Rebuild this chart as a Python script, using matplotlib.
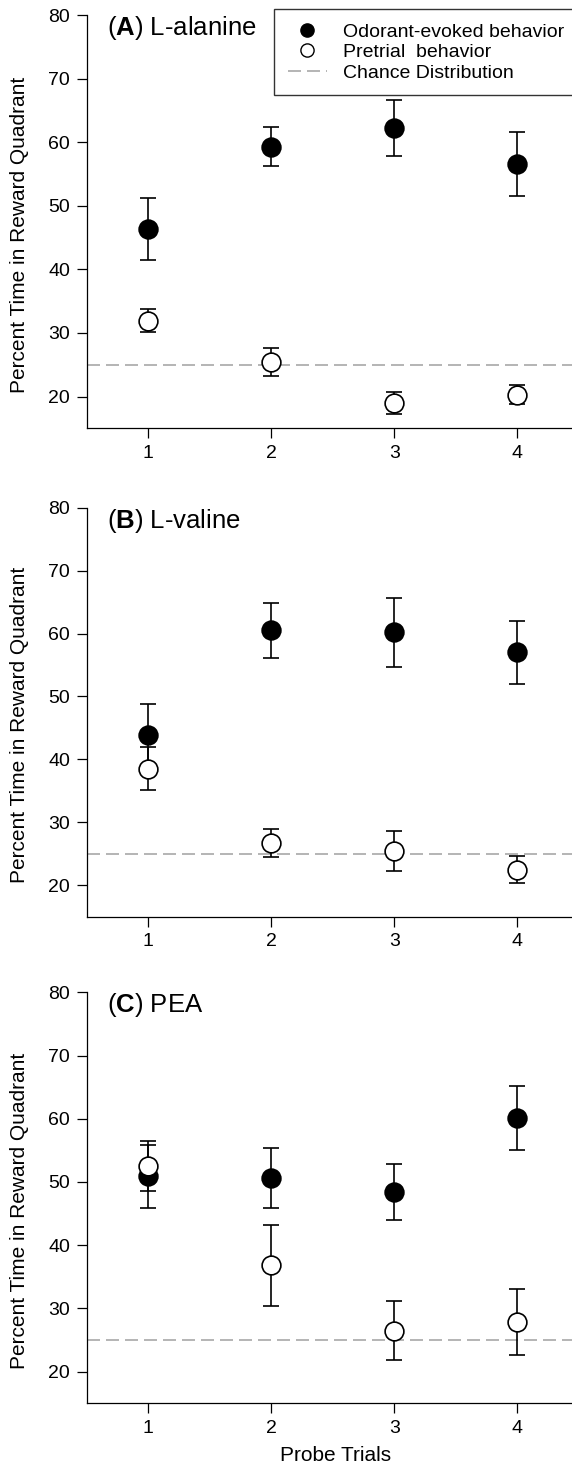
import matplotlib
matplotlib.use("Agg")
import matplotlib.pyplot as plt
from matplotlib.lines import Line2D

plt.rcParams['font.family'] = ['Liberation Sans', 'DejaVu Sans']
plt.rcParams['mathtext.fontset'] = 'custom'
plt.rcParams['mathtext.rm'] = 'Liberation Sans'
plt.rcParams['mathtext.bf'] = 'Liberation Sans:bold'

trials = [1, 2, 3, 4]
chance = 25

panel_titles = [r'($\mathbf{A}$) L-alanine', r'($\mathbf{B}$) L-valine', r'($\mathbf{C}$) PEA']

# mean percent time in reward quadrant, with error bar half-widths
odor_alanine = [46.3, 59.3, 62.2, 56.6]
odor_alanine_err = [4.9, 3.1, 4.45, 5.0]
pre_alanine = [31.9, 25.5, 19.0, 20.3]
pre_alanine_err = [1.8, 2.2, 1.75, 1.5]

odor_valine = [43.8, 60.5, 60.2, 57.0]
odor_valine_err = [5.0, 4.4, 5.5, 5.0]
pre_valine = [38.5, 26.7, 25.4, 22.5]
pre_valine_err = [3.4, 2.2, 3.2, 2.1]

odor_pea = [50.9, 50.6, 48.4, 60.1]
odor_pea_err = [5.0, 4.7, 4.4, 5.1]
pre_pea = [52.6, 36.8, 26.5, 27.8]
pre_pea_err = [3.95, 6.4, 4.65, 5.2]

odor = [odor_alanine, odor_valine, odor_pea]
odor_err = [odor_alanine_err, odor_valine_err, odor_pea_err]
pre = [pre_alanine, pre_valine, pre_pea]
pre_err = [pre_alanine_err, pre_valine_err, pre_pea_err]

W, H = 572, 1470
fig = plt.figure(figsize=(W / 100, H / 100), dpi=100)

# axes boxes in pixels: (top, bottom)
boxes = [(15, 428.3), (507.7, 916.7), (992.3, 1403.3)]
left_px = 86.7
unit_px = 123.0
dash = (0, (7.8, 3.6))
chance_col = '#a8a8a8'

for i, (top, bot) in enumerate(boxes):
    ax = fig.add_axes([left_px / W, 1 - bot / H, 4 * unit_px / W, (bot - top) / H])
    ax.axhline(chance, color=chance_col, lw=1.2, linestyle=dash, zorder=1)
    ax.errorbar(trials, odor[i], yerr=odor_err[i], fmt='o', ms=13.5,
                mfc='black', mec='black', mew=1.2, color='black',
                elinewidth=1.2, capsize=6, capthick=1.2, zorder=3)
    ax.errorbar(trials, pre[i], yerr=pre_err[i], fmt='o', ms=13.5,
                mfc='white', mec='black', mew=1.2, color='black',
                elinewidth=1.2, capsize=6, capthick=1.2, zorder=4)

    ax.set_xlim(0.5, 4.5)
    ax.set_ylim(15, 80)
    ax.set_xticks(trials)
    ax.set_yticks(range(20, 81, 10))
    ax.spines['top'].set_visible(False)
    ax.spines['right'].set_visible(False)
    for s in ('left', 'bottom'):
        ax.spines[s].set_linewidth(0.9)
    ax.tick_params(direction='out', length=7, width=0.9, labelsize=14, pad=5)

    ax.set_ylabel('Percent Time in Reward Quadrant', fontsize=15)
    ax.yaxis.set_label_coords(-0.117, 0.469)
    ax.text(0.042, 0.951, panel_titles[i], transform=ax.transAxes,
            fontsize=18.5, va='baseline', ha='left')

    if i == 2:
        ax.set_xlabel('Probe Trials', fontsize=15)
        ax.xaxis.set_label_coords(0.505, -0.105)

handles = [
    Line2D([], [], marker='o', ls='none', ms=9.5, mfc='black', mec='black'),
    Line2D([], [], marker='o', ls='none', ms=9.5, mfc='white', mec='black', mew=1.0),
    Line2D([], [], color=chance_col, lw=1.2, linestyle=dash),
]
labels = ['Odorant-evoked behavior', 'Pretrial  behavior', 'Chance Distribution']
leg = fig.legend(handles, labels, loc='upper left',
                 bbox_to_anchor=(274 / W, 1 - 9.3 / H), bbox_transform=fig.transFigure,
                 fontsize=14, frameon=True, fancybox=False, edgecolor='black',
                 borderpad=0.7, handlelength=2.0, handletextpad=0.85,
                 labelspacing=0.15, borderaxespad=0)
leg.get_frame().set_linewidth(1.0)

fig.savefig('out.png', dpi=100)
